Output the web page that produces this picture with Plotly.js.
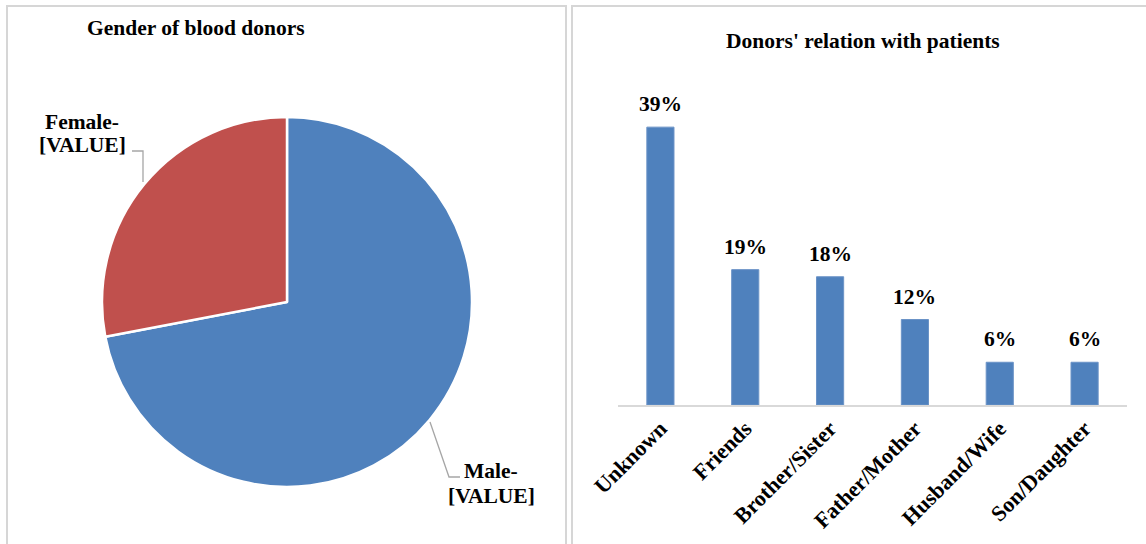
<!DOCTYPE html>
<html>
<head>
<meta charset="utf-8">
<script src="https://cdn.plot.ly/plotly-3.0.1.min.js"></script>
<style>html,body{margin:0;padding:0;background:#fff;}#chart{width:1146px;height:544px;}</style>
</head>
<body>
<div id="chart"></div>
<script>
// ---- data ----
const genderLabels = ["Male", "Female"];
const genderValues = [72, 28];
const genderTextLines = [["Male-", "[VALUE]"], ["Female-", "[VALUE]"]];

const relationCategories = ["Unknown", "Friends", "Brother/Sister", "Father/Mother", "Husband/Wife", "Son/Daughter"];
const relationValues = [39, 19, 18, 12, 6, 6];

// ---- helpers (pixel -> paper) ----
const W = 1146, H = 544;
const px = x => x / W;
const py = y => 1 - y / H;

const FONT = "'Liberation Serif', 'Times New Roman', serif";
const BLUE = "#4F81BD", RED = "#C0504D";
const TXT = 21.5;

const pie = {
  type: "pie",
  labels: genderLabels,
  values: genderValues,
  sort: false,
  direction: "clockwise",
  rotation: 0,
  textinfo: "none",
  hoverinfo: "label+percent",
  marker: {colors: [BLUE, RED], line: {color: "#ffffff", width: 2.5}},
  domain: {x: [px(102), px(472)], y: [py(487), py(117)]},
  showlegend: false
};

const bars = {
  type: "bar",
  x: relationCategories,
  y: relationValues,
  xaxis: "x",
  yaxis: "y",
  marker: {color: BLUE, line: {color: "#6b93c7", width: 1}},
  width: 0.32,
  hoverinfo: "x+y",
  showlegend: false
};

const annotations = [];
// titles
annotations.push({xref: "paper", yref: "paper", x: px(196), y: py(28), text: "Gender of blood donors",
  showarrow: false, xanchor: "center", yanchor: "middle", font: {family: FONT, size: TXT, color: "#000", weight: "bold"}});
annotations.push({xref: "paper", yref: "paper", x: px(863), y: py(41), text: "Donors' relation with patients",
  showarrow: false, xanchor: "center", yanchor: "middle", font: {family: FONT, size: TXT, color: "#000", weight: "bold"}});

// pie labels (two lines each)
const pieLabelPos = {"Male": [491, 471, 496], "Female": [82, 122, 145]};
genderLabels.forEach((g, i) => {
  const p = pieLabelPos[g];
  genderTextLines[i].forEach((t, j) => {
    annotations.push({xref: "paper", yref: "paper", x: px(p[0]), y: py(p[1 + j]), text: t,
      showarrow: false, xanchor: "center", yanchor: "middle",
      font: {family: FONT, size: TXT, color: "#000", weight: "bold"}});
  });
});

// bar value labels
relationCategories.forEach((c, i) => {
  annotations.push({xref: "x", yref: "y", x: c, y: relationValues[i], text: relationValues[i] + "%",
    showarrow: false, xanchor: "center", yanchor: "middle", yshift: 23,
    font: {family: FONT, size: TXT, color: "#000", weight: "bold"}});
});

const BORDER = "#d6d6d6";
const shapes = [
  // panel borders
  {type: "rect", xref: "paper", yref: "paper", x0: px(7), x1: px(566), y0: py(560), y1: py(6),
    line: {color: BORDER, width: 2}, fillcolor: "rgba(0,0,0,0)"},
  {type: "rect", xref: "paper", yref: "paper", x0: px(572), x1: px(1160), y0: py(560), y1: py(6),
    line: {color: BORDER, width: 2}, fillcolor: "rgba(0,0,0,0)"},
  // leader lines
  {type: "path", xref: "paper", yref: "paper",
    path: `M ${px(132)},${py(151)} L ${px(143)},${py(151)} L ${px(143)},${py(182)}`,
    line: {color: "#a6a6a6", width: 1.3}},
  {type: "path", xref: "paper", yref: "paper",
    path: `M ${px(430)},${py(422)} L ${px(449)},${py(477)} L ${px(460)},${py(477)}`,
    line: {color: "#a6a6a6", width: 1.3}}
];

const layout = {
  width: W, height: H,
  margin: {l: 0, r: 0, t: 0, b: 0},
  paper_bgcolor: "#fff", plot_bgcolor: "rgba(0,0,0,0)",
  showlegend: false,
  xaxis: {
    domain: [px(618), px(1127)],
    range: [-0.5, 5.5],
    type: "category",
    showline: true, linecolor: "#d9d9d9", linewidth: 2,
    ticks: "", showgrid: false, zeroline: false,
    tickangle: -45,
    tickfont: {family: FONT, size: 22, color: "#000", weight: "bold"},
    fixedrange: true
  },
  yaxis: {
    domain: [py(405), py(120)],
    range: [0, 40],
    visible: false, showgrid: false, zeroline: false,
    fixedrange: true
  },
  annotations: annotations,
  shapes: shapes
};

Plotly.newPlot("chart", [pie, bars], layout, {displayModeBar: false, staticPlot: true});
</script>
</body>
</html>
